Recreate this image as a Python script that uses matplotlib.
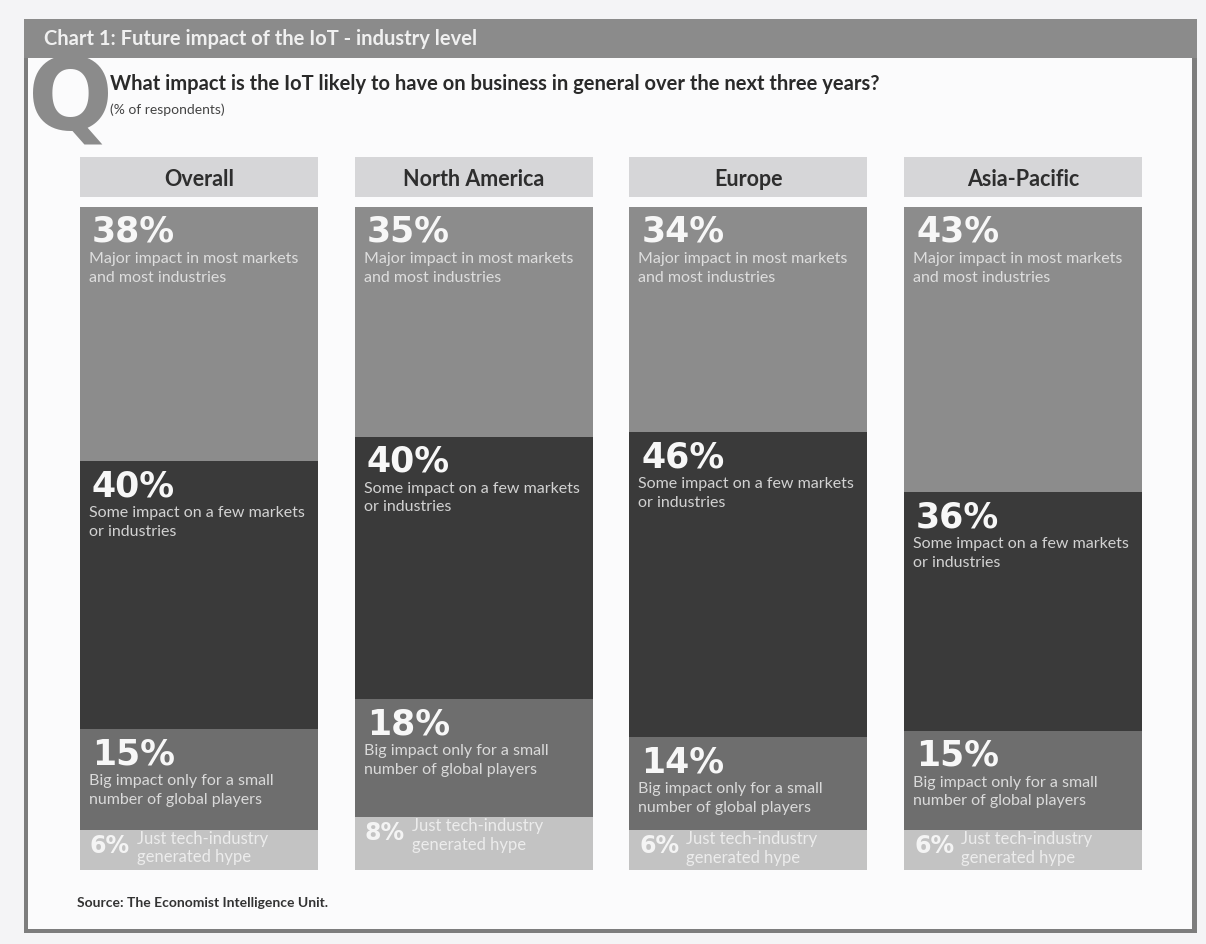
"""
Chart 1: Future impact of the IoT - industry level (stacked columns)
"""
import matplotlib
matplotlib.use("Agg")
import matplotlib.pyplot as plt
from matplotlib.patches import Rectangle
import numpy as np

W, H = 1206, 944

regions = ["Overall", "North America", "Europe", "Asia-Pacific"]
major = [38, 35, 34, 43]
some = [40, 40, 46, 36]
big = [15, 18, 14, 15]
hype = [6, 8, 6, 6]

labels = [
    "Major impact in most markets\nand most industries",
    "Some impact on a few markets\nor industries",
    "Big impact only for a small\nnumber of global players",
    "Just tech-industry\ngenerated hype",
]
seg_colors = ["#8c8c8c", "#3a3a3a", "#6e6e6e", "#c3c3c3"]
label_colors = ["#dedede", "#d2d2d2", "#dadada", "#ececec"]

FONT = ["Lato", "DejaVu Sans"]
PCT_FONT = ["DejaVu Sans"]


def px(x, y):
    """pixel (from top-left) -> figure fraction"""
    return x / W, 1 - y / H


def frect(fig, x0, y0, x1, y1, color, z=0):
    fx, fy = px(x0, y1)
    fig.patches.append(Rectangle((fx, fy), (x1 - x0) / W, (y1 - y0) / H,
                                 transform=fig.transFigure, facecolor=color,
                                 edgecolor="none", zorder=z))


fig = plt.figure(figsize=(W / 100, H / 100), dpi=100)
fig.patch.set_facecolor("#f4f4f6")

# frame
frect(fig, 24, 19, 1197, 933, "#7d7d7d", 0)
frect(fig, 28, 58, 1192, 929, "#fbfbfc", 1)
frect(fig, 24, 19, 1197, 58, "#8b8b8b", 2)

fig.text(*px(44, 39), "Chart 1: Future impact of the IoT - industry level",
         color="#f0f0f0", fontsize=14.5, fontweight="bold", family=FONT,
         va="center", ha="left", zorder=5)
fig.text(*px(28, 129), "Q", color="#8b8b8b", fontsize=72, fontweight="bold",
         family=PCT_FONT, va="baseline", ha="left", zorder=3)
fig.text(*px(110, 84), "What impact is the IoT likely to have on business in general over the next three years?",
         color="#2a2a2a", fontsize=14.5, fontweight="bold", family=FONT,
         va="center", ha="left", zorder=5)
fig.text(*px(110, 110), "(% of respondents)", color="#444444", fontsize=10,
         family=FONT, va="center", ha="left", zorder=5)
fig.text(*px(77, 903), "Source: The Economist Intelligence Unit.", color="#333333",
         fontsize=10, fontweight="bold", family=FONT, va="center", ha="left", zorder=5)

# bar area
bar_left, bar_right, bar_top, bar_bot = 80, 1142, 207, 870
width = 0.866
l, b = px(bar_left, bar_bot)
ax = fig.add_axes([l, b, (bar_right - bar_left) / W, (bar_bot - bar_top) / H])
ax.set_zorder(4)
ax.patch.set_alpha(0)
ax.set_xlim(-width / 2, len(regions) - 1 + width / 2)
ax.set_ylim(1, 0)
ax.axis("off")

data = np.array([major, some, big, hype], dtype=float)
shares = data / data.sum(axis=0)
x = np.arange(len(regions))
ppu = bar_bot - bar_top  # pixels per unit of share

bottoms = np.zeros(len(regions))
for k in range(4):
    ax.bar(x, shares[k], width=width, bottom=bottoms, color=seg_colors[k],
           edgecolor="none", align="center")
    for i in range(len(regions)):
        xl = x[i] - width / 2
        top = bottoms[i]
        pct = f"{int(data[k, i])}%"
        if k < 3:
            ax.annotate(pct, xy=(xl, top), xytext=(12 * 0.72, -8 * 0.72),
                        textcoords="offset points", ha="left", va="top",
                        fontsize=25, fontweight="bold", color="#f7f7f7",
                        family=PCT_FONT)
            ax.annotate(labels[k], xy=(xl, top), xytext=(9 * 0.72, -45 * 0.72),
                        textcoords="offset points", ha="left", va="top",
                        fontsize=11.5, color=label_colors[k], family=FONT,
                        linespacing=1.42)
        else:
            ax.annotate(pct, xy=(xl, top), xytext=(10 * 0.72, -4 * 0.72),
                        textcoords="offset points", ha="left", va="top",
                        fontsize=17, fontweight="bold", color="#f4f4f4",
                        family=PCT_FONT)
            ax.annotate(labels[k], xy=(xl, top), xytext=(57 * 0.72, -1 * 0.72),
                        textcoords="offset points", ha="left", va="top",
                        fontsize=12, color=label_colors[k], family=FONT,
                        linespacing=1.2)
    bottoms += shares[k]

# region headers above the bars
hdr_top, hdr_bot = -50 / ppu, -10 / ppu
ax.bar(x, hdr_bot - hdr_top, width=width, bottom=hdr_top, color="#d6d6d8",
       edgecolor="none", clip_on=False)
for i, name in enumerate(regions):
    ax.text(x[i], (hdr_top + hdr_bot) / 2 + 2 / ppu, name, ha="center", va="center",
            fontsize=15.5, fontweight="bold", color="#2e2e2e", family=FONT,
            clip_on=False)

plt.savefig("out.png", dpi=100)
plt.close()
